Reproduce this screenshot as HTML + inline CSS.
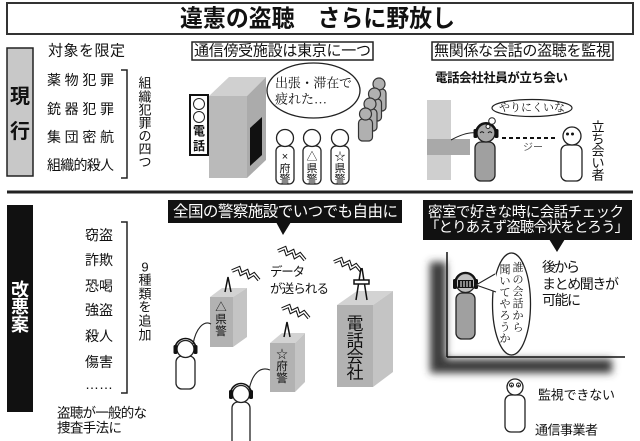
<!DOCTYPE html>
<html><head><meta charset="utf-8">
<style>
html,body{margin:0;padding:0;background:#fff;}
svg{display:block;}
text{font-family:"Liberation Sans","Noto Sans CJK JP",sans-serif;fill:#111;}
.s{font-family:"Liberation Serif","Noto Serif CJK SC",serif;}
.w{fill:#fff;}
</style></head><body>
<svg width="640" height="441" viewBox="0 0 640 441" xmlns="http://www.w3.org/2000/svg">
<defs>
<filter id="blur" x="-30%" y="-30%" width="160%" height="160%"><feGaussianBlur stdDeviation="4"/></filter>
<g id="bolt">
<polyline points="0,3 7,0 9,6 15,3 17,9 22,6 27,12" fill="none" stroke="#111" stroke-width="3.6" stroke-linejoin="miter"/>
<polyline points="0,3 7,0 9,6 15,3 17,9 22,6 27,12" fill="none" stroke="#fff" stroke-width="1.5" stroke-linejoin="miter"/>
</g>
</defs>

<!-- Title -->
<rect x="7" y="3" width="626" height="31" fill="#fff" stroke="#333" stroke-width="2"/>
<text x="180" y="19" font-size="24" font-weight="bold" dominant-baseline="central" textLength="275" lengthAdjust="spacingAndGlyphs">違憲の盗聴　さらに野放し</text>

<!-- 現行 -->
<rect x="7" y="48" width="26" height="128" fill="#c8c8c8" stroke="#222" stroke-width="1.5"/>
<text x="20" y="97" font-size="20" font-weight="bold" text-anchor="middle" dominant-baseline="central">現</text>
<text x="20" y="132" font-size="20" font-weight="bold" text-anchor="middle" dominant-baseline="central">行</text>

<text x="48" y="51" font-size="15" dominant-baseline="central" textLength="77">対象を限定</text>
<text x="47" y="80" font-size="14" dominant-baseline="central" textLength="67" lengthAdjust="spacing">薬物犯罪</text>
<text x="47" y="109" font-size="14" dominant-baseline="central" textLength="67" lengthAdjust="spacing">銃器犯罪</text>
<text x="47" y="137" font-size="14" dominant-baseline="central" textLength="67" lengthAdjust="spacing">集団密航</text>
<text x="47" y="165" font-size="14" dominant-baseline="central" textLength="67" lengthAdjust="spacing">組織的殺人</text>
<path d="M121,70 H127 V178 H121" fill="none" stroke="#222" stroke-width="1.5"/>
<g font-size="13" text-anchor="middle" dominant-baseline="central">
<text x="145" y="83">組</text><text x="145" y="97">織</text><text x="145" y="110">犯</text><text x="145" y="123">罪</text><text x="145" y="136">の</text><text x="145" y="149">四</text><text x="145" y="162">つ</text>
</g>

<!-- separator -->
<line x1="7" y1="192" x2="633" y2="192" stroke="#222" stroke-width="3"/>

<!-- Panel: 通信傍受施設 -->
<rect x="192" y="42" width="181" height="18" fill="#fff" stroke="#222" stroke-width="1.5"/>
<text x="194" y="51" font-size="15" dominant-baseline="central" textLength="177">通信傍受施設は東京に一つ</text>

<polygon points="209,96 229,77 266,77 247,96" fill="#d0d0d0"/>
<rect x="209" y="96" width="38" height="82" fill="#bababa"/>
<polygon points="247,96 266,77 266,160 247,178" fill="#ababab"/>
<polygon points="250,128 262,117 262,155 250,166" fill="#111"/>

<rect x="190" y="95" width="18" height="60" fill="#fff" stroke="#111" stroke-width="2"/>
<circle cx="199" cy="104" r="5.5" fill="#fff" stroke="#222" stroke-width="1"/>
<circle cx="199" cy="117" r="5.5" fill="#fff" stroke="#222" stroke-width="1"/>
<text x="199" y="131" font-size="12" font-weight="bold" text-anchor="middle" dominant-baseline="central">電</text>
<text x="199" y="146" font-size="12" font-weight="bold" text-anchor="middle" dominant-baseline="central">話</text>

<ellipse cx="313.5" cy="90.5" rx="46.5" ry="27.5" fill="#fff" stroke="#222" stroke-width="1.3"/>
<text class="s" x="275" y="83" font-size="13" dominant-baseline="central" textLength="77">出張・滞在で</text>
<text class="s" x="275" y="99" font-size="13" dominant-baseline="central" textLength="52">疲れた…</text>

<!-- three figures -->
<g fill="#fff" stroke="#222" stroke-width="1.3">
<rect x="276" y="146" width="18" height="38" rx="5"/><circle cx="285" cy="138" r="8.5"/>
<rect x="303" y="146" width="18" height="38" rx="5"/><circle cx="312" cy="138" r="8.5"/>
<rect x="331" y="146" width="18" height="38" rx="5"/><circle cx="340" cy="138" r="8.5"/>
</g>
<g font-size="11" text-anchor="middle" dominant-baseline="central">
<text x="285" y="157">×</text><text x="285" y="169">府</text><text x="285" y="180">警</text>
<text x="312" y="157">△</text><text x="312" y="169">県</text><text x="312" y="180">警</text>
<text x="340" y="157">☆</text><text x="340" y="169">県</text><text x="340" y="180">警</text>
</g>

<!-- queue -->
<g fill="#b0b0b0" stroke="#333" stroke-width="1.2">
<rect x="372" y="89" width="14" height="22" rx="4"/><circle cx="379" cy="84" r="6"/>
<rect x="367.5" y="99" width="14" height="22" rx="4"/><circle cx="374.5" cy="94" r="6"/>
<rect x="363" y="109" width="14" height="22" rx="4"/><circle cx="370" cy="104" r="6"/>
<rect x="358.5" y="119" width="14" height="22" rx="4"/><circle cx="365.5" cy="114" r="6"/>
</g>

<!-- Panel: 無関係な会話 -->
<rect x="432" y="42" width="181" height="18" fill="#fff" stroke="#222" stroke-width="1.5"/>
<text x="434" y="51" font-size="15" dominant-baseline="central" textLength="177">無関係な会話の盗聴を監視</text>
<text x="435" y="78" font-size="12.5" font-weight="bold" dominant-baseline="central" textLength="133">電話会社社員が立ち会い</text>

<rect x="427" y="100" width="24" height="80" fill="#cfcfcf"/>
<rect x="427" y="139" width="43" height="16" fill="#a9a9a9"/>
<path d="M451,140 C462,134 470,132 476,133" fill="none" stroke="#222" stroke-width="1"/>

<rect x="475" y="142" width="20" height="39" rx="6" fill="#a0a0a0" stroke="#222" stroke-width="1.3"/>
<circle cx="486" cy="133" r="9" fill="#a8a8a8" stroke="#222" stroke-width="1.3"/>
<path d="M476,133 A10,10 0 0 1 496,133" fill="none" stroke="#111" stroke-width="2"/>
<rect x="473.5" y="129" width="4" height="9" rx="1.5" fill="#111"/>
<rect x="494.5" y="129" width="4" height="9" rx="1.5" fill="#111"/>
<path d="M480,133 q2,-2.5 4,0 M488,133 q2,-2.5 4,0" fill="none" stroke="#111" stroke-width="1"/>

<ellipse cx="532" cy="108" rx="40" ry="8.5" fill="#fff" stroke="#222" stroke-width="1.2"/>
<text class="s" x="499" y="108" font-size="11" dominant-baseline="central" textLength="66" lengthAdjust="spacingAndGlyphs">やりにくいな</text>
<circle cx="492" cy="121" r="3.3" fill="#fff" stroke="#222" stroke-width="1"/>
<circle cx="488" cy="126.5" r="2" fill="#fff" stroke="#222" stroke-width="1"/>

<line x1="502" y1="138" x2="558" y2="138" stroke="#111" stroke-width="2" stroke-dasharray="4,3"/>
<text x="523" y="148" font-size="10" dominant-baseline="central" style="fill:#555">ジー</text>

<rect x="561" y="145" width="21" height="36" rx="6" fill="#fff" stroke="#222" stroke-width="1.3"/>
<circle cx="572" cy="136" r="9" fill="#fff" stroke="#222" stroke-width="1.3"/>
<circle cx="567.5" cy="134" r="1.5" fill="#111"/><circle cx="572.5" cy="134" r="1.5" fill="#111"/>

<g font-size="13" text-anchor="middle" dominant-baseline="central">
<text x="598" y="127">立</text><text x="598" y="139">ち</text><text x="598" y="151">会</text><text x="598" y="163">い</text><text x="598" y="175">者</text>
</g>

<!-- 改悪案 -->
<rect x="7" y="205" width="26" height="207" fill="#111"/>
<g font-size="18" font-weight="bold" text-anchor="middle" dominant-baseline="central">
<text class="w" x="20" y="290">改</text><text class="w" x="20" y="307">悪</text><text class="w" x="20" y="325">案</text>
</g>

<g font-size="14" dominant-baseline="central">
<text x="85" y="235">窃盗</text>
<text x="85" y="260">詐欺</text>
<text x="85" y="286">恐喝</text>
<text x="85" y="310">強盗</text>
<text x="85" y="336">殺人</text>
<text x="85" y="362">傷害</text>
<text x="85" y="384" textLength="28">……</text>
</g>
<path d="M121,222 H127 V393 H121" fill="none" stroke="#222" stroke-width="1.5"/>
<g font-size="13" text-anchor="middle" dominant-baseline="central">
<text x="145" y="267">9</text><text x="145" y="280">種</text><text x="145" y="294">類</text><text x="145" y="307">を</text><text x="145" y="321">追</text><text x="145" y="335">加</text>
</g>
<text x="57" y="413" font-size="13.5" dominant-baseline="central" textLength="90">盗聴が一般的な</text>
<text x="57" y="428" font-size="13.5" dominant-baseline="central" textLength="65">捜査手法に</text>

<!-- 全国の警察施設 label -->
<rect x="168" y="200" width="234" height="23" fill="#111"/>
<polygon points="276,222 291,222 283,235" fill="#111"/>
<text class="w" x="173" y="212" font-size="15.5" dominant-baseline="central" textLength="225">全国の警察施設でいつでも自由に</text>

<use href="#bolt" transform="translate(278,248)"/>
<use href="#bolt" transform="translate(232,268)"/>
<use href="#bolt" transform="translate(282,306)"/>
<use href="#bolt" transform="translate(334,259)"/>

<text x="270" y="272" font-size="12.5" dominant-baseline="central" textLength="35">データ</text>
<text x="270" y="289" font-size="12.5" dominant-baseline="central" textLength="59">が送られる</text>

<!-- building 県警 -->
<polygon points="210,297 222,288 247,288 233,297" fill="#d3d3d3"/>
<rect x="210" y="297" width="23" height="50" fill="#b2b2b2"/>
<polygon points="233,297 247,288 247,337 233,347" fill="#c4c4c4"/>
<polyline points="225,292 228,277 231,292" fill="none" stroke="#111" stroke-width="1.5"/>
<g font-size="11.5" text-anchor="middle" dominant-baseline="central">
<text x="221" y="308">△</text><text x="221" y="320">県</text><text x="221" y="332">警</text>
</g>

<!-- building 府警 -->
<polygon points="270,343 282,333 305,333 295,343" fill="#d3d3d3"/>
<rect x="270" y="343" width="25" height="49" fill="#b2b2b2"/>
<polygon points="295,343 305,333 305,382 295,392" fill="#c4c4c4"/>
<polyline points="284,337 287,322 290,337" fill="none" stroke="#111" stroke-width="1.5"/>
<g font-size="11.5" text-anchor="middle" dominant-baseline="central">
<text x="282" y="355">☆</text><text x="282" y="367">府</text><text x="282" y="379">警</text>
</g>

<!-- 電話会社 building -->
<polygon points="337,305 357,291 393,291 373,305" fill="#d3d3d3"/>
<rect x="337" y="305" width="36" height="82" fill="#b2b2b2"/>
<polygon points="373,305 393,291 393,372 373,387" fill="#c4c4c4"/>
<g stroke="#111" stroke-width="1.5" fill="none">
<line x1="356" y1="300" x2="361" y2="268"/>
<line x1="367" y1="300" x2="362" y2="268"/>
<rect x="354" y="280" width="15" height="4" fill="#fff"/>
</g>
<g font-size="17" text-anchor="middle" dominant-baseline="central">
<text x="355" y="324">電</text><text x="355" y="341">話</text><text x="355" y="357">会</text><text x="355" y="373">社</text>
</g>

<!-- headset persons -->
<path d="M193,344 C196,328 204,320 211,324" fill="none" stroke="#222" stroke-width="1.1"/>
<path d="M249,390 C252,374 260,366 270,370" fill="none" stroke="#222" stroke-width="1.1"/>
<g fill="#fff" stroke="#222" stroke-width="1.3">
<rect x="176" y="356" width="19" height="33" rx="6"/><circle cx="185.5" cy="349" r="8.5"/>
<rect x="232" y="402" width="18" height="45" rx="6"/><circle cx="241" cy="394" r="8.5"/>
</g>
<g fill="none" stroke="#111" stroke-width="1.6">
<path d="M175,349 A10.5,10.5 0 0 1 196,349"/>
<path d="M230.5,394 A10.5,10.5 0 0 1 251.5,394"/>
</g>
<g fill="#111">
<rect x="173.5" y="345" width="4" height="9" rx="1.5"/><rect x="193.5" y="345" width="4" height="9" rx="1.5"/>
<rect x="229" y="390" width="4" height="9" rx="1.5"/><rect x="249" y="390" width="4" height="9" rx="1.5"/>
</g>

<!-- 密室 label -->
<rect x="423" y="200" width="209" height="40" fill="#111"/>
<polygon points="549,239 565,239 557,252" fill="#111"/>
<text class="w" x="428" y="213" font-size="14.5" dominant-baseline="central" textLength="196">密室で好きな時に会話チェック</text>
<text class="w" x="425" y="228" font-size="14.5" dominant-baseline="central" textLength="204">「とりあえず盗聴令状をとろう」</text>

<!-- room shadow -->
<polygon points="430,262 446,262 446,359 612,359 612,373 430,373" fill="#3a3a3a" filter="url(#blur)"/>
<line x1="447" y1="252" x2="447" y2="357" stroke="#111" stroke-width="1.5"/>
<line x1="447" y1="357" x2="625" y2="357" stroke="#111" stroke-width="1.5"/>

<!-- right person -->
<rect x="456" y="293" width="19" height="46" rx="6" fill="#a0a0a0" stroke="#222" stroke-width="1.3"/>
<circle cx="465.5" cy="283" r="9.5" fill="#c0c0c0" stroke="#222" stroke-width="1.3"/>
<path d="M455,283 A10.5,10.5 0 0 1 476,283" fill="none" stroke="#111" stroke-width="1.6"/>
<rect x="453" y="279" width="4" height="10" rx="1.5" fill="#111"/>
<rect x="474" y="279" width="4" height="10" rx="1.5" fill="#111"/>
<rect x="458" y="280" width="15" height="8" fill="#111"/>
<g stroke="#fff" stroke-width="1">
<line x1="461" y1="281" x2="461" y2="287"/><line x1="464" y1="281" x2="464" y2="287"/><line x1="467" y1="281" x2="467" y2="287"/><line x1="470" y1="281" x2="470" y2="287"/>
</g>

<!-- speech bubble -->
<ellipse cx="511.5" cy="304" rx="19" ry="51" fill="#fff" stroke="#222" stroke-width="1.3"/>
<polygon points="476,285 496,274 496,292" fill="#fff"/>
<polyline points="495,274 476,285 496,292" fill="none" stroke="#222" stroke-width="1.1"/>
<g font-size="11" text-anchor="middle" dominant-baseline="central">
<text class="s" x="518" y="268">誰</text><text class="s" x="518" y="280">の</text><text class="s" x="518" y="292">会</text><text class="s" x="518" y="304">話</text><text class="s" x="518" y="316">か</text><text class="s" x="518" y="328">ら</text>
<text class="s" x="505" y="270">聞</text><text class="s" x="505" y="281.5">い</text><text class="s" x="505" y="293">て</text><text class="s" x="505" y="304.5">や</text><text class="s" x="505" y="316">ろ</text><text class="s" x="505" y="327.5">う</text><text class="s" x="505" y="339">か</text>
</g>

<text x="542" y="267" font-size="14" dominant-baseline="central" textLength="38">後から</text>
<text x="542" y="284" font-size="14" dominant-baseline="central" textLength="77">まとめ聞きが</text>
<text x="542" y="300" font-size="14" dominant-baseline="central" textLength="39">可能に</text>

<!-- small person -->
<rect x="505" y="395" width="20" height="37" rx="6" fill="#fff" stroke="#222" stroke-width="1.3"/>
<circle cx="515" cy="387" r="8" fill="#fff" stroke="#222" stroke-width="1.3"/>
<circle cx="511.5" cy="385" r="2" fill="#fff" stroke="#111" stroke-width="0.9"/>
<circle cx="518.5" cy="385" r="2" fill="#fff" stroke="#111" stroke-width="0.9"/>
<circle cx="511.5" cy="385.5" r="0.9" fill="#111"/><circle cx="518.5" cy="385.5" r="0.9" fill="#111"/>

<text x="538" y="395" font-size="13" dominant-baseline="central" textLength="77">監視できない</text>
<text x="535" y="430" font-size="13" dominant-baseline="central" textLength="63">通信事業者</text>
</svg>
</body></html>
